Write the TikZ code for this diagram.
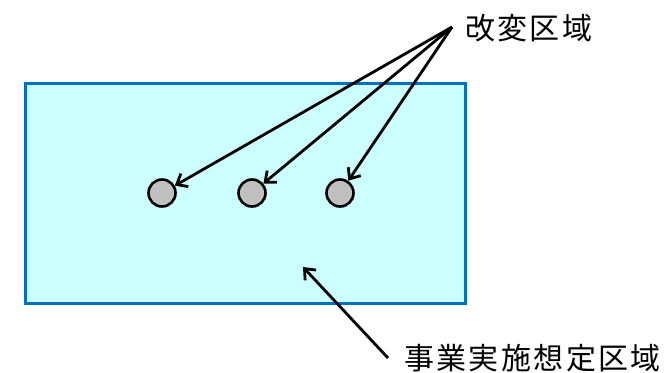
\documentclass[tikz,border=0pt]{standalone}
\usepackage{fontspec}
\newfontfamily\cjk[LetterSpace=8]{Noto Sans CJK JP}
\usetikzlibrary{arrows.meta}
\definecolor{areafill}{HTML}{CCFFFF}
\definecolor{areadraw}{HTML}{0070C0}
\definecolor{spotfill}{HTML}{C0C0C0}
\tikzset{
  spot/.style={circle,draw=black,fill=spotfill,line width=2.6pt,minimum size=27pt,inner sep=0pt},
  pointer/.style={-{Straight Barb[length=9pt,width=15pt,line width=2.8pt]},line width=2.8pt,black},
  label/.style={font=\cjk\fontsize{30pt}{32pt}\selectfont,inner sep=0pt}
}
\begin{document}
\begin{tikzpicture}[x=1pt,y=-1pt]
\useasboundingbox (0,0) rectangle (669,372);
\node[draw=areadraw,fill=areafill,line width=3pt,minimum width=440pt,minimum height=220pt,inner sep=0pt,anchor=north west] (area) at (24,82) {};
\node[spot] (c1) at (162,193) {};
\node[spot] (c2) at (252,193) {};
\node[spot] (c3) at (340,193) {};
\node[label,anchor=west] (t1) at (465,28) {改変区域};
\node[label,anchor=west] (t2) at (404,358) {事業実施想定区域};
\coordinate (s1) at (452,27);
\coordinate (s2) at (388,358);
\coordinate (e2) at (303,267);
\draw[pointer] (s1) -- (c1);
\draw[pointer] (s1) -- (c2);
\draw[pointer] (s1) -- (c3);
\draw[pointer] (s2) -- (e2);
\end{tikzpicture}
\end{document}
